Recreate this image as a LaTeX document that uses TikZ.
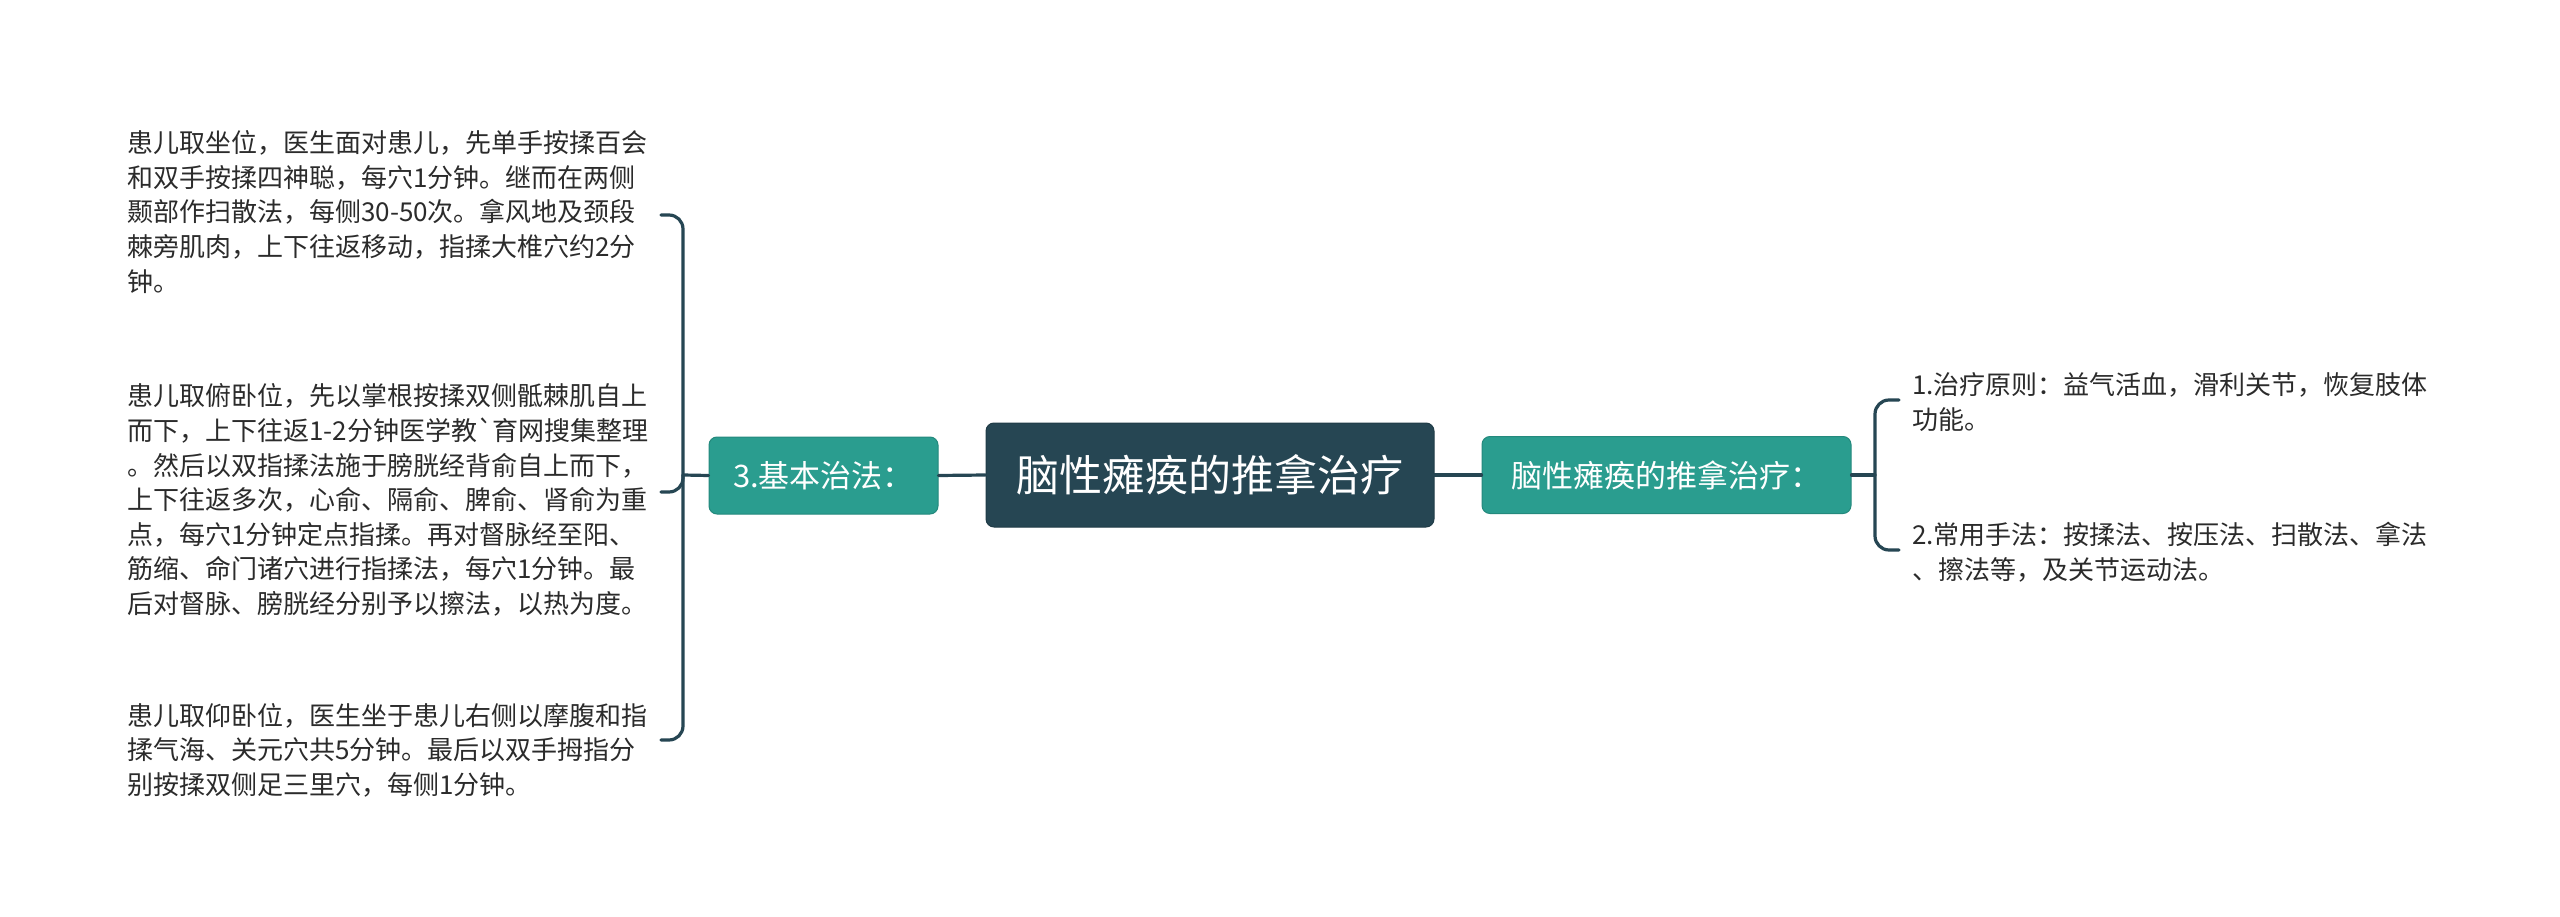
\documentclass[tikz,border=0pt]{standalone}
\usepackage{fontspec}
\setmainfont{Noto Sans CJK SC}
\newfontfamily\rawf{Noto Sans CJK SC}
\definecolor{darkbox}{HTML}{264653}
\definecolor{tealbox}{HTML}{2A9D8F}
\definecolor{tealedge}{HTML}{24897D}
\definecolor{linec}{HTML}{264653}
\definecolor{txt}{HTML}{2B2B2B}
\tikzset{
  leaf/.style={anchor=west, align=left, inner sep=0pt, text=txt, font=\fontsize{26}{34.6}\selectfont},
  rootbox/.style={draw=darkbox!85!black, line width=1pt, fill=darkbox, rounded corners=8pt, text=white, minimum width=448pt, minimum height=104pt, inner sep=0pt, font=\fontsize{43}{50}\selectfont},
  subbox/.style={draw=tealedge, line width=1pt, fill=tealbox, rounded corners=8pt, text=white, minimum height=77pt, inner sep=0pt, font=\fontsize{31}{36}\selectfont},
  conn/.style={draw=linec, line width=3.2pt, line cap=round, rounded corners=14pt}
}
\begin{document}
\begin{tikzpicture}[x=1pt,y=-1pt]
\useasboundingbox[fill=white] (0,0) rectangle (2560,917);
\node[rootbox] (root) at (1210,475) {脑性瘫痪的推拿治疗};
\node[subbox, minimum width=229pt] (basic) at (823.5,475.5) {3.基本治法：};
\node[subbox, minimum width=369pt] (main) at (1666.5,475) {脑性瘫痪的推拿治疗：};

\node[leaf] (l1) at (127,212) {患儿取坐位，医生面对患儿，先单手按揉百会\\和双手按揉四神聪，每穴1分钟。继而在两侧\\颞部作扫散法，每侧30-50次。拿风地及颈段\\棘旁肌肉，上下往返移动，指揉大椎穴约2分\\钟。};
\node[leaf] (l2) at (127,500) {患儿取俯卧位，先以掌根按揉双侧骶棘肌自上\\而下，上下往返1-2分钟医学教{\rawf`}育网搜集整理\\。然后以双指揉法施于膀胱经背俞自上而下，\\上下往返多次，心俞、隔俞、脾俞、肾俞为重\\点，每穴1分钟定点指揉。再对督脉经至阳、\\筋缩、命门诸穴进行指揉法，每穴1分钟。最\\后对督脉、膀胱经分别予以擦法，以热为度。};
\node[leaf] (l3) at (127,750) {患儿取仰卧位，医生坐于患儿右侧以摩腹和指\\揉气海、关元穴共5分钟。最后以双手拇指分\\别按揉双侧足三里穴，每侧1分钟。};

\node[leaf] (r1) at (1912,402) {1.治疗原则：益气活血，滑利关节，恢复肢体\\功能。};
\node[leaf] (r2) at (1912,552) {2.常用手法：按揉法、按压法、扫散法、拿法\\、擦法等，及关节运动法。};

% root connections
\draw[conn] (root.west) -- (basic.east);
\draw[conn] (root.east) -- (main.west);

% left bracket
\coordinate (lb) at (683,475);
\draw[conn] (basic.west) -- (lb);
\draw[conn] (661,215) -| (683,740) -- (661,740);
\draw[conn] (661,492) -| (lb);

% right bracket
\coordinate (rb) at (1875,475);
\draw[conn] (main.east) -- (rb);
\draw[conn] (1899,400) -| (1875,550) -- (1899,550);
\end{tikzpicture}
\end{document}
